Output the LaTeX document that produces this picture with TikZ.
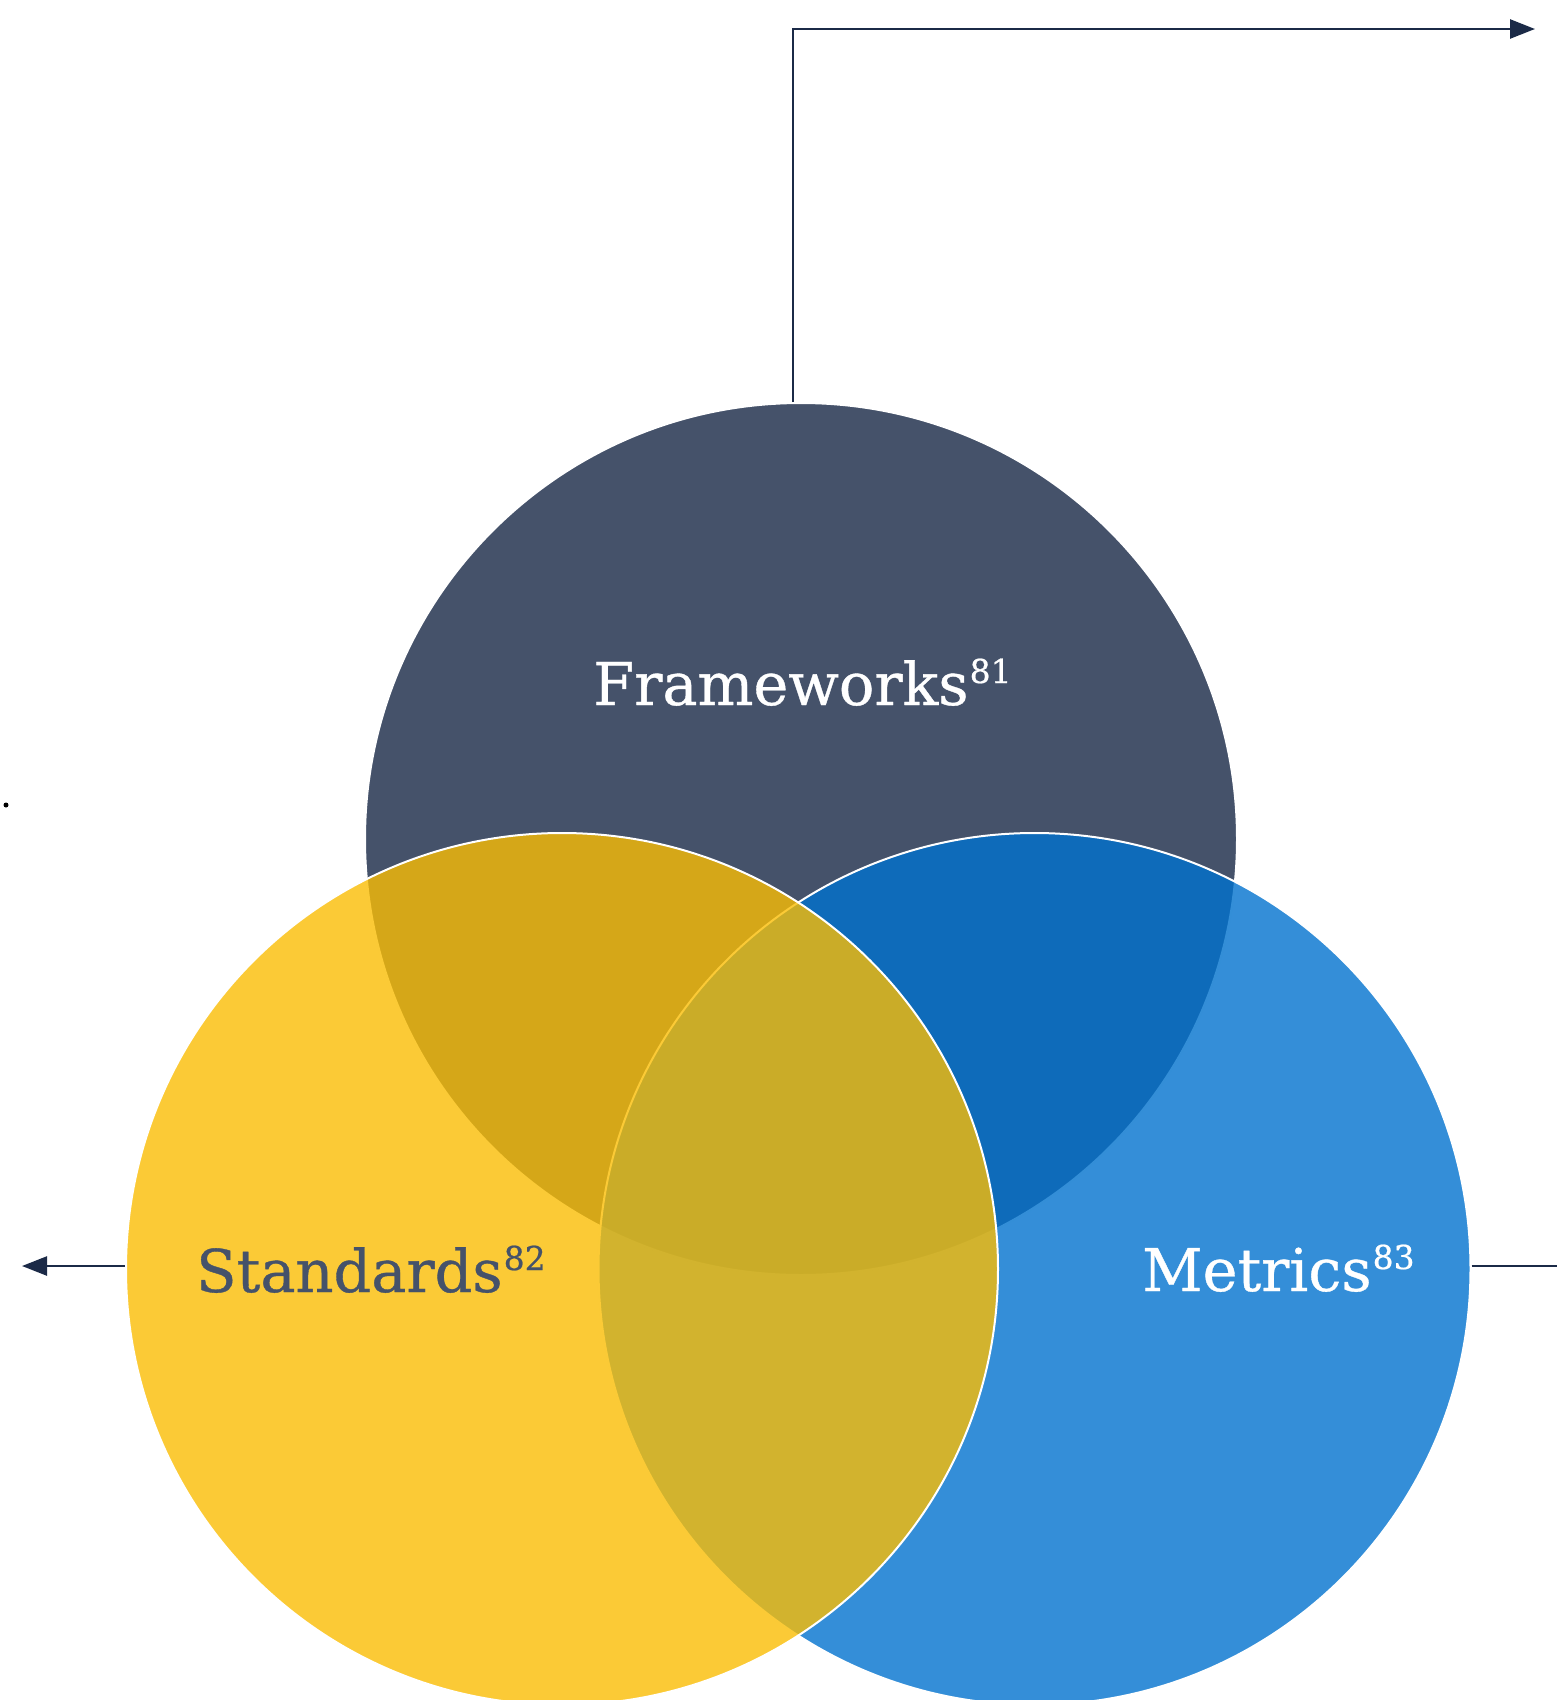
\documentclass[tikz,border=0pt]{standalone}
\usepackage{fontspec}
\setmainfont{DejaVu Serif}
\newfontfamily\lblfont{DejaVu Serif}[FakeBold=0.6]
\usetikzlibrary{arrows.meta}
\definecolor{fwc}{HTML}{45526A}
\definecolor{stc}{HTML}{FABD04}
\definecolor{mtc}{HTML}{0172CE}
\definecolor{navy}{HTML}{1B2A47}
\definecolor{stl}{HTML}{45526A}
\newcommand{\supnum}[1]{\kern1pt\raisebox{22pt}{\fontsize{33}{33}\selectfont #1}}
\begin{document}
\begin{tikzpicture}[x=1pt,y=-1pt,
  venn/.style={circle, minimum size=872pt, inner sep=0pt, draw=white, line width=2pt, fill opacity=0.8},
  lbl/.style={font=\lblfont\fontsize{59}{70}\selectfont, anchor=base west, inner sep=0pt},
  conn/.style={draw=navy, line width=2.5pt, -{Triangle[length=25pt,width=19pt]}}]
\useasboundingbox (0,0) rectangle (1557,1700);
\node[venn, fill=fwc, fill opacity=1] (fw) at (801,839) {};
\node[venn, fill=mtc] (mt) at (1034.5,1269) {};
\node[venn, fill=stc] (st) at (562,1269) {};
\node[lbl, text=white] (fwl) at (593,705) {Frameworks\supnum{81}};
\node[lbl, text=stl] (stlb) at (196,1292) {Standards\supnum{82}};
\node[lbl, text=white] (mtl) at (1142,1291) {Metrics\supnum{83}};
\coordinate (tr) at (1535,29);
\coordinate (lt) at (22,1266);
\coordinate (rt) at (1582,1266);
\draw[conn] ([xshift=-8pt]fw.north) |- (tr);
\draw[conn] ([yshift=3pt]st.west) -- (lt);
\draw[conn] ([yshift=3pt]mt.east) -- (rt);
\node[circle, fill=black, inner sep=0pt, minimum size=5pt] (dot) at (6,805) {};
\end{tikzpicture}
\end{document}
